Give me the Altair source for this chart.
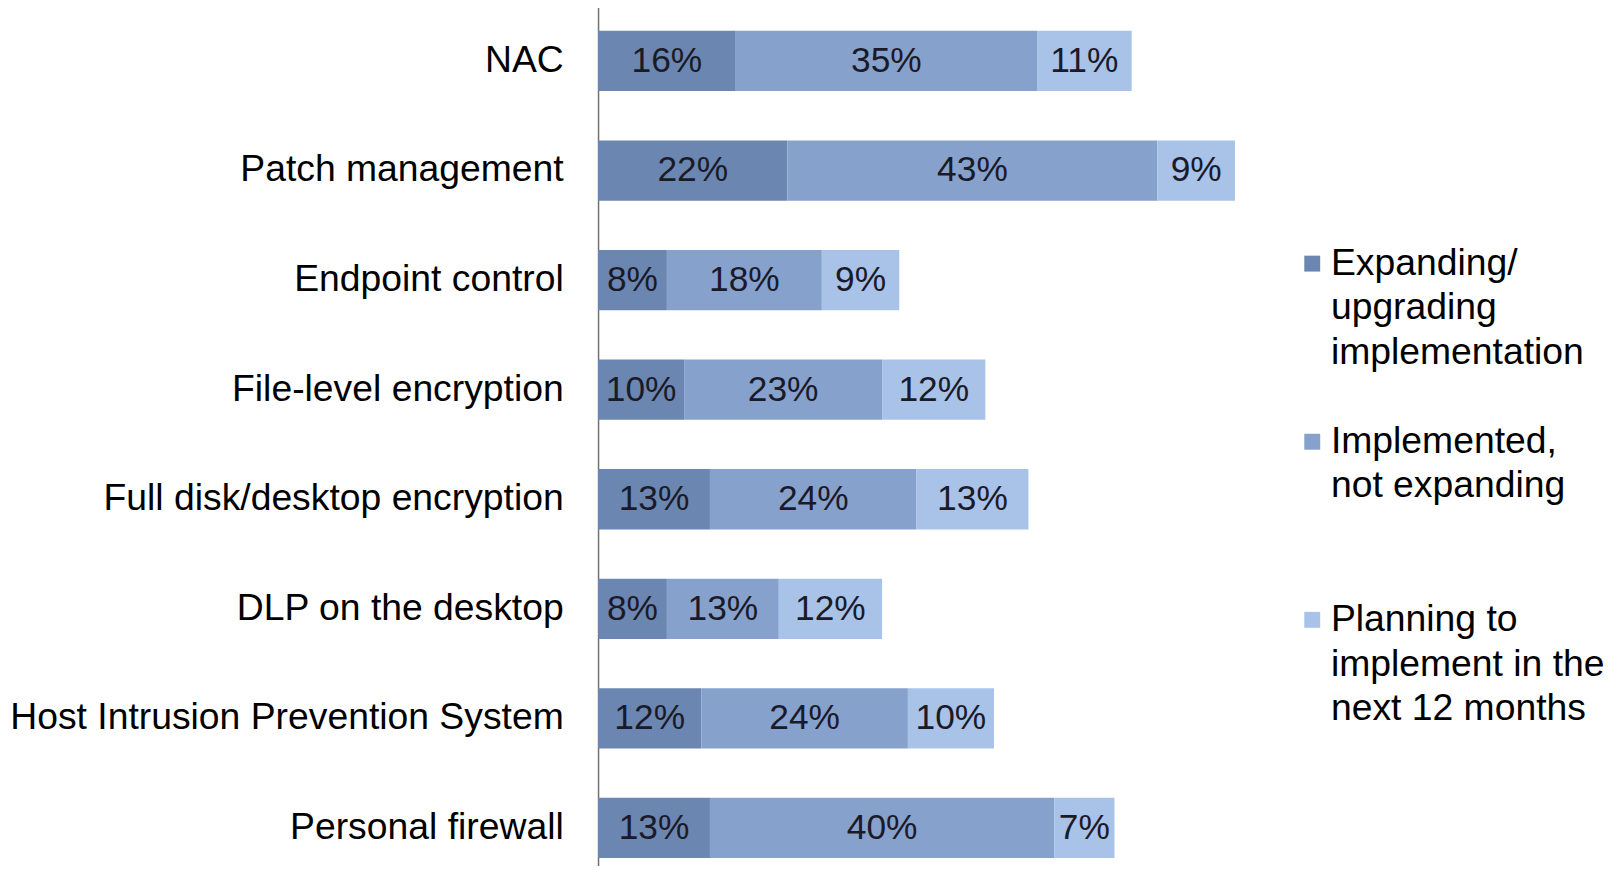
import altair as alt
import pandas as pd

categories = [
    "NAC",
    "Patch management",
    "Endpoint control",
    "File-level encryption",
    "Full disk/desktop encryption",
    "DLP on the desktop",
    "Host Intrusion Prevention System",
    "Personal firewall",
]
series = [
    "Expanding/upgrading implementation",
    "Implemented, not expanding",
    "Planning to implement in the next 12 months",
]
expanding = [16, 22, 8, 10, 13, 8, 12, 13]
implemented = [35, 43, 18, 23, 24, 13, 24, 40]
planning = [11, 9, 9, 12, 13, 12, 10, 7]
colors = ["#6b87b1", "#87a1cd", "#a9c2e8"]

rows = []
for i, c in enumerate(categories):
    for j, (s, vals) in enumerate(zip(series, [expanding, implemented, planning])):
        rows.append({"category": c, "series": s, "order": j, "value": vals[i]})
df = pd.DataFrame(rows)

font = "Liberation Sans"

label_expr = (
    "datum.label == 'Expanding/upgrading implementation' ? ['Expanding/', 'upgrading', 'implementation'] : "
    "datum.label == 'Implemented, not expanding' ? ['Implemented,', 'not expanding', ''] : "
    "['Planning to', 'implement in the', 'next 12 months']"
)

base = alt.Chart(df).transform_stack(
    stack="value", groupby=["category"], as_=["x0", "x1"],
    sort=[alt.SortField("order", order="ascending")],
).transform_calculate(mid="(datum.x0 + datum.x1) / 2", lbl="datum.value + '%'")

y_enc = alt.Y(
    "category:N", sort=categories, title=None,
    scale=alt.Scale(paddingInner=0.45, paddingOuter=0.225, range=[-4, 877]),
    axis=alt.Axis(
        labelFont=font, labelFontSize=37.5, labelColor="#000000", labelPadding=35,
        labelLineHeight=38,
        ticks=False, domainColor="#707070", domainWidth=1.5, labelLimit=0,
    ),
)

bars = base.mark_bar().encode(
    y=y_enc,
    x=alt.X("x0:Q", scale=alt.Scale(domain=[0, 80]), axis=None),
    x2="x1:Q",
    color=alt.Color(
        "series:N", sort=series,
        scale=alt.Scale(domain=series, range=colors),
        legend=alt.Legend(
            title=None, orient="none", legendX=699, legendY=236,
            labelFont=font, labelFontSize=37.5, labelColor="#000000",
            labelExpr=label_expr, labelLimit=0,
            symbolType="square", symbolSize=256, symbolStrokeWidth=0,
            rowPadding=50, labelOffset=0,
        ),
    ),
)

texts = base.mark_text(font=font, fontSize=35.5, color="#1a1a28").encode(
    y=alt.Y("category:N", sort=categories),
    x=alt.X("mid:Q"),
    text="lbl:N",
)

chart = (
    (bars + texts)
    .properties(
        width=692, height=858,
        autosize=alt.AutoSizeParams(type="none"),
        padding={"left": 593, "top": 0, "right": 324, "bottom": 0},
    )
    .configure(style={"guide-label": {"lineHeight": 45}})
    .configure_view(strokeWidth=0)
)

chart.save("out.html", embed_options={"renderer": "svg", "actions": False})
